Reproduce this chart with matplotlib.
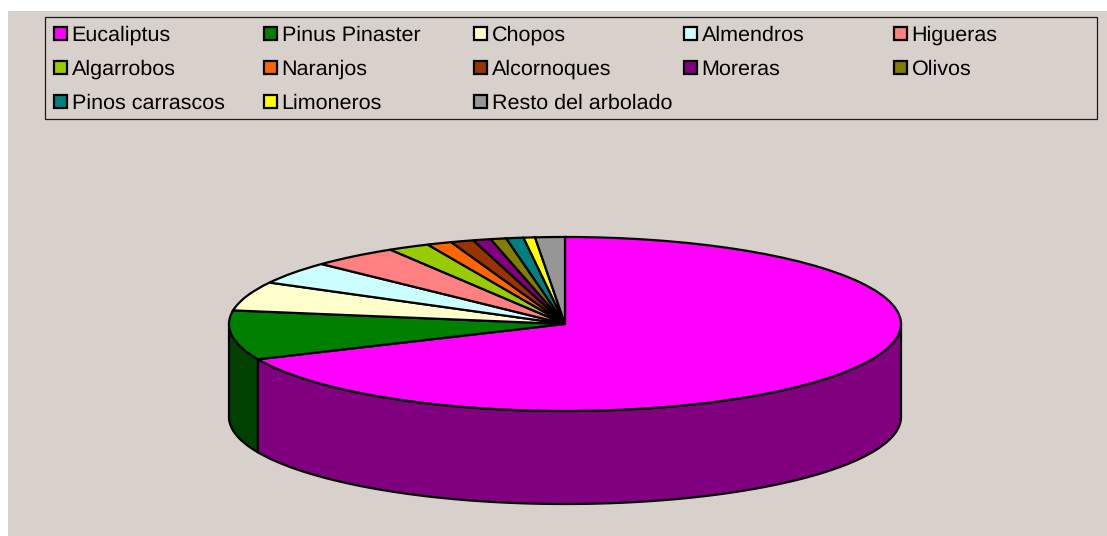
import numpy as np
import matplotlib
matplotlib.use("Agg")
import matplotlib.pyplot as plt
from matplotlib.patches import Rectangle

plt.rcParams['font.family'] = ['Liberation Sans', 'DejaVu Sans']
plt.rcParams['text.hinting'] = 'no_hinting'

categories = ["Eucaliptus", "Pinus Pinaster", "Chopos", "Almendros", "Higueras",
              "Algarrobos", "Naranjos", "Alcornoques", "Moreras", "Olivos",
              "Pinos carrascos", "Limoneros", "Resto del arbolado"]
values = [68.35, 9.15, 5.4, 4.2, 4.2, 2.0, 1.2, 1.1, 0.85, 0.75, 0.83, 0.55, 1.42]
colors = ["#FF00FF", "#008000", "#FFFFCC", "#CCFFFF", "#FF8080",
          "#99CC00", "#FF6600", "#993300", "#800080", "#808000",
          "#008080", "#FFFF00", "#969696"]
wall_colors = ["#800080", "#004000"]

W, H = 1107, 536
bg = "#D8D0CA"

fig = plt.figure(figsize=(W / 100, H / 100), dpi=100, facecolor="white")

# page axes in pixel coords, for the background and the legend
page = fig.add_axes([0, 0, 1, 1])
page.set_xlim(0, W)
page.set_ylim(H, 0)
page.axis("off")
page.add_patch(Rectangle((8, 11), W - 8, H - 11, fc=bg, ec="none"))
page.add_patch(Rectangle((45, 17), 1052, 102, fc="none", ec="#1a1a1a", lw=0.9))

for i, name in enumerate(categories):
    row, col = divmod(i, 5)
    x = 53.5 + 210 * col
    y = 33.5 + 34 * row
    page.add_patch(Rectangle((x, y - 6.5), 13, 13, fc=colors[i], ec="black", lw=1.6))
    page.text(x + 18, y + 7.1, name, fontsize=15.45, va="baseline", ha="left", color="black")

# pie: ellipse comes from stretching the axes
cx, cy, rx, ry, depth = 565, 324, 336, 87, 93
ax = fig.add_axes([(cx - rx) / W, 1 - (cy + ry) / H, 2 * rx / W, 2 * ry / H])
ax.set_zorder(2)
ax.patch.set_alpha(0)

edges = np.cumsum([0] + values) / sum(values) * 2 * np.pi
drop = 2 * depth / (2 * ry)

# side wall, only the front half shows (clockwise from top, pi/2 to 3pi/2)
for i in range(2):
    a0 = max(edges[i], np.pi / 2)
    a1 = min(edges[i + 1], 3 * np.pi / 2)
    t = np.linspace(a0, a1, 200)
    xs = np.sin(t)
    ys = np.cos(t)
    ax.fill(np.r_[xs, xs[::-1]], np.r_[ys, ys[::-1] - drop],
            fc=wall_colors[i], ec="black", lw=1.6, clip_on=False, joinstyle="round")

ax.pie(values, colors=colors, startangle=90, counterclock=False, radius=1,
       wedgeprops=dict(edgecolor="black", linewidth=1.6), frame=False)
ax.set_aspect("auto")
ax.set_xlim(-1, 1)
ax.set_ylim(-1, 1)
ax.axis("off")
for p in ax.patches:
    p.set_clip_on(False)

fig.savefig("out.png", dpi=100, facecolor="white")
